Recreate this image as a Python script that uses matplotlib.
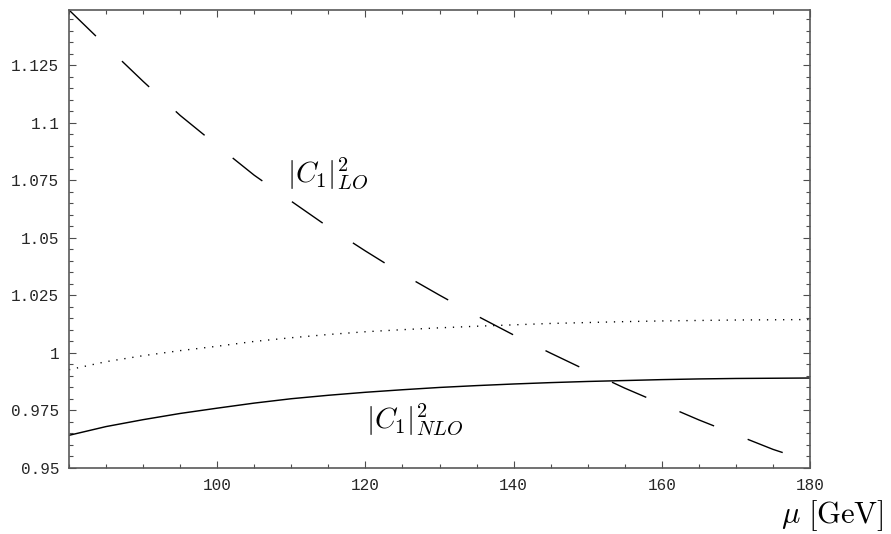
import numpy as np
import matplotlib
matplotlib.use("Agg")
import matplotlib.pyplot as plt
from matplotlib.ticker import MultipleLocator, FixedLocator, FixedFormatter

plt.rcParams['mathtext.fontset'] = 'cm'
plt.rcParams['lines.scale_dashes'] = False

# scale mu in GeV
mu = [80, 85, 90, 95, 100, 105, 110, 115, 120, 125, 130,
      135, 140, 145, 150, 155, 160, 165, 170, 175, 180]
# |C1|^2 at leading order (dashed)
c1_lo = [1.149, 1.1334, 1.118, 1.1032, 1.0901, 1.0772, 1.0659, 1.0547,
         1.0443, 1.0343, 1.0251, 1.0162, 1.0078, 0.9999, 0.9922, 0.9847,
         0.9778, 0.9709, 0.9645, 0.9581, 0.9528]
# dotted curve
c1_dot = [0.9927, 0.9962, 0.9988, 1.0010, 1.0029, 1.0050, 1.0066, 1.0080,
          1.0092, 1.0101, 1.0109, 1.0116, 1.0122, 1.0128, 1.0132, 1.0136,
          1.0139, 1.0141, 1.0143, 1.0144, 1.0145]
# |C1|^2 at next-to-leading order (solid)
c1_nlo = [0.9642, 0.9680, 0.9710, 0.9737, 0.9760, 0.9782, 0.9801, 0.9816,
          0.9829, 0.9840, 0.9850, 0.9858, 0.9865, 0.9871, 0.9876, 0.9880,
          0.9884, 0.9887, 0.9889, 0.9890, 0.9891]

yticks = [0.95, 0.975, 1.0, 1.025, 1.05, 1.075, 1.1, 1.125]
ylabels = ['0.95', '0.975', '1', '1.025', '1.05', '1.075', '1.1', '1.125']
xticks = [100, 120, 140, 160, 180]

fig = plt.figure(figsize=(8.91, 5.34), dpi=100)
ax = fig.add_axes([69/891, 66/534, 741/891, 458/534])

ax.plot(mu, c1_lo, color='black', lw=1.0, dashes=(27, 26))
ax.plot(mu, c1_dot, color='black', lw=1.0, dashes=(0.9, 4.9))
ax.plot(mu, c1_nlo, color='black', lw=1.05)

ax.set_xlim(80, 180)
ax.set_ylim(0.95, 1.149)

ax.xaxis.set_major_locator(FixedLocator(xticks))
ax.xaxis.set_minor_locator(MultipleLocator(5))
ax.yaxis.set_major_locator(FixedLocator(yticks))
ax.yaxis.set_major_formatter(FixedFormatter(ylabels))
ax.yaxis.set_minor_locator(MultipleLocator(0.005))

ax.tick_params(which='both', direction='in', top=True, right=True,
               color='0.3', width=0.8)
ax.tick_params(which='major', length=5, labelsize=11.5, pad=7,
               labelcolor='0.15')
ax.tick_params(which='minor', length=3)
ax.tick_params(top=True, labeltop=False, right=True, labelright=False)
for lab in ax.get_xticklabels() + ax.get_yticklabels():
    lab.set_family('Liberation Mono')
for sp in ax.spines.values():
    sp.set_color('0.35')
    sp.set_linewidth(1.2)

ax.text(109.4, 1.0743, r'$|C_1|^2_{LO}$', fontsize=21, ha='left', va='baseline')
ax.text(120.1, 0.9675, r'$|C_1|^2_{NLO}$', fontsize=21, ha='left', va='baseline')

fig.text(781/891, 11/534, r'$\mu$', fontsize=22, ha='left', va='baseline')
fig.text(808/891, 11/534, r'$[\mathrm{GeV}]$', fontsize=22,
         ha='left', va='baseline')

fig.savefig('out.png', dpi=100)
